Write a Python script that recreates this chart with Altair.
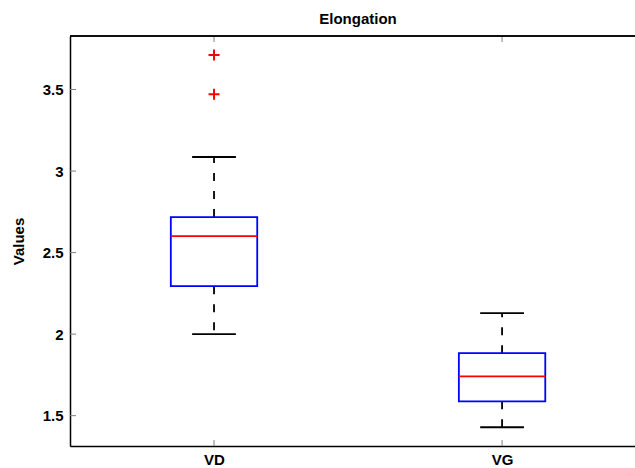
import altair as alt
import pandas as pd

groups = ["VD", "VG"]
positions = [1, 2]
lower_whisker = [2.00, 1.429]
q1 = [2.294, 1.588]
median = [2.601, 1.741]
q3 = [2.718, 1.883]
upper_whisker = [3.086, 2.129]
outlier_group = ["VD", "VD"]
outlier_values = [3.712, 3.471]
y_ticks = [1.5, 2, 2.5, 3, 3.5]

box_half = 0.15
cap_half = 0.076
x_domain = [0.5, 2.4615]
y_domain = [1.314, 3.828]

df = pd.DataFrame({
    "group": groups, "pos": positions, "lo": lower_whisker, "q1": q1,
    "med": median, "q3": q3, "hi": upper_whisker,
})
df["bl"] = df["pos"] - box_half
df["br"] = df["pos"] + box_half
df["cl"] = df["pos"] - cap_half
df["cr"] = df["pos"] + cap_half

pos_map = dict(zip(groups, positions))
out_df = pd.DataFrame({"group": outlier_group, "val": outlier_values})
out_df["pos"] = out_df["group"].map(pos_map)

tick_df = pd.DataFrame({"t": y_ticks})
xt_df = pd.DataFrame({"pos": positions})

font = "Liberation Sans"
xs = alt.Scale(domain=x_domain, nice=False, zero=False)
ys = alt.Scale(domain=y_domain, nice=False, zero=False)

x_axis = alt.Axis(values=positions, labelExpr="datum.value == 1 ? 'VD' : 'VG'",
                  title=None, tickSize=0, labelPadding=6, grid=False,
                  labelFont=font, labelFontSize=15, labelFontWeight="bold",
                  labelColor="black", domainColor="black", domainWidth=1.5)
y_axis = alt.Axis(values=y_ticks, format="~g", title="Values", tickSize=0,
                  labelPadding=7, grid=False,
                  labelFont=font, labelFontSize=15, labelFontWeight="bold",
                  labelColor="black", titleFont=font, titleFontSize=15,
                  titleFontWeight="bold", titleColor="black", titlePadding=16,
                  domainColor="black", domainWidth=1.5)

base = alt.Chart(df)
dash = [8, 10]

whisk_lo = base.mark_rule(color="black", strokeWidth=1.8, strokeDash=dash).encode(
    x=alt.X("pos:Q", scale=xs, axis=x_axis),
    y=alt.Y("q1:Q", scale=ys, axis=y_axis),
    y2="lo:Q",
)
whisk_hi = base.mark_rule(color="black", strokeWidth=1.8, strokeDash=dash).encode(
    x=alt.X("pos:Q", scale=xs), y=alt.Y("q3:Q", scale=ys), y2="hi:Q",
)
cap_lo = base.mark_rule(color="black", strokeWidth=1.8).encode(
    x=alt.X("cl:Q", scale=xs), x2="cr:Q", y=alt.Y("lo:Q", scale=ys),
)
cap_hi = base.mark_rule(color="black", strokeWidth=1.8).encode(
    x=alt.X("cl:Q", scale=xs), x2="cr:Q", y=alt.Y("hi:Q", scale=ys),
)
box = base.mark_rect(fill="white", stroke="#0000ff", strokeWidth=1.8).encode(
    x=alt.X("bl:Q", scale=xs), x2="br:Q", y=alt.Y("q1:Q", scale=ys), y2="q3:Q",
)
med = base.mark_rule(color="#ff0000", strokeWidth=1.8).encode(
    x=alt.X("bl:Q", scale=xs), x2="br:Q", y=alt.Y("med:Q", scale=ys),
)
outl = alt.Chart(out_df).mark_point(
    shape="M-1,0L1,0M0,-1L0,1", size=121, color="#ff0000", filled=False,
    strokeWidth=2, opacity=1,
).encode(x=alt.X("pos:Q", scale=xs), y=alt.Y("val:Q", scale=ys))

ytick_marks = alt.Chart(tick_df).mark_rule(color="#808080", strokeWidth=1).encode(
    y=alt.Y("t:Q", scale=ys), x=alt.value(0), x2=alt.value(6),
)
xtick_top = alt.Chart(xt_df).mark_rule(color="#808080", strokeWidth=1).encode(
    x=alt.X("pos:Q", scale=xs), y=alt.value(0), y2=alt.value(6),
)
xtick_bot = alt.Chart(xt_df).mark_rule(color="#808080", strokeWidth=1).encode(
    x=alt.X("pos:Q", scale=xs), y=alt.value(410), y2=alt.value(404),
)
top_border = alt.Chart(xt_df).mark_rule(color="black", strokeWidth=1.5).encode(
    y=alt.value(0), x=alt.value(0), x2=alt.value(565),
)

chart = alt.layer(
    whisk_lo, whisk_hi, cap_lo, cap_hi, box, med, outl,
    ytick_marks, xtick_top, xtick_bot, top_border,
).properties(
    width=565, height=410,
    title=alt.TitleParams("Elongation", font=font, fontSize=15, fontWeight="bold",
                          color="black", anchor="middle", dx=5.5, offset=8),
    autosize=alt.AutoSizeParams(type="none"),
    padding={"left": 70, "top": 36, "right": 0, "bottom": 22},
).configure_view(stroke=None).configure(background="white")

chart.save("out.html", embed_options={"renderer": "svg", "actions": False})
